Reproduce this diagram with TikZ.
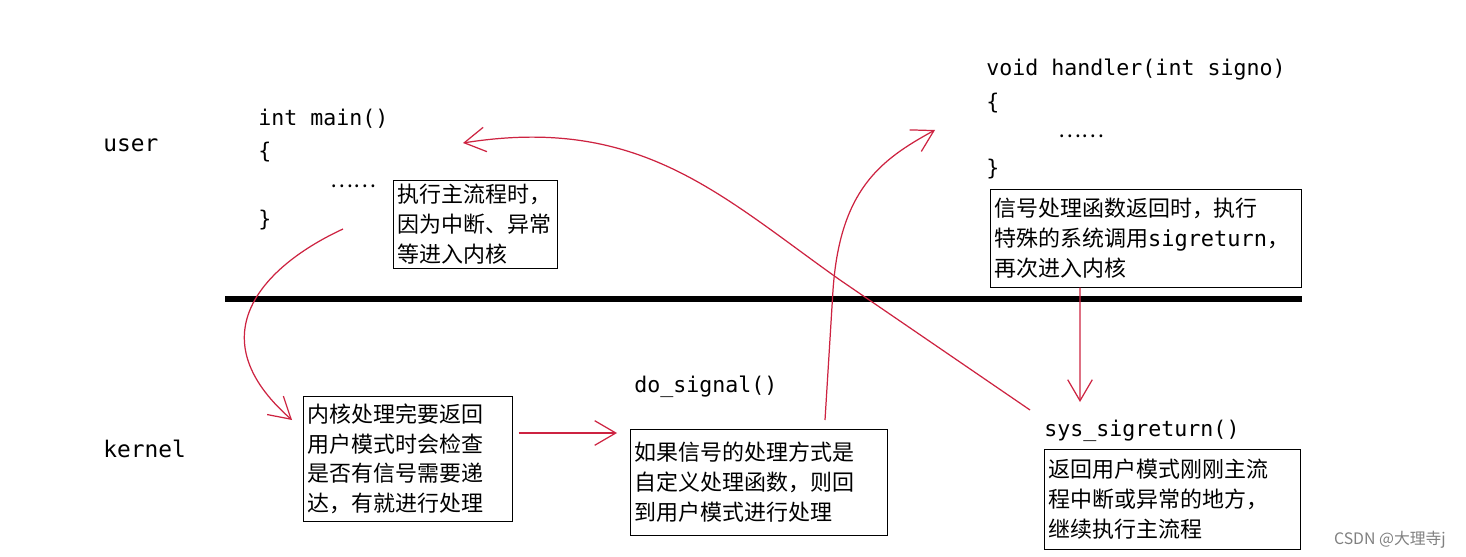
\documentclass[tikz,border=0pt]{standalone}
\usepackage{fontspec}
\setmonofont{DejaVu Sans Mono}
\newfontfamily\cjk{Noto Sans CJK SC}
\usetikzlibrary{positioning,arrows.meta}
\definecolor{sigred}{RGB}{205,35,65}

\begin{document}
\begin{tikzpicture}[x=0.02cm,y=-0.02cm,
        code/.style={anchor=west,inner sep=0pt,font=\ttfamily\fontsize{12.3}{14}\selectfont},
        note/.style={draw,anchor=north west,inner sep=0.08cm,align=left,font=\cjk\fontsize{12.5}{17}\selectfont},
        flow/.style={draw=sigred,line width=0.7pt,-{Straight Barb[length=12pt,width=14pt]}}]
        \useasboundingbox (0,0) rectangle (1466,557);
        % mode labels
        \node[code,font=\ttfamily\fontsize{13}{15}\selectfont] (user) at (103,145) {user};
        \node[code,font=\ttfamily\fontsize{13}{15}\selectfont] (kernel) at (103,449) {kernel};
        \draw[line width=3.4pt] (225,299) -- (1302,299);
        % user space
        \node[code] (mainsig) at (258,119) {int main()};
        \node[code] (mainopen) at (258,152) {\{};
        \node[code] (maindots) at (330,186) {\cjk ……};
        \node[code] (mainclose) at (258,220) {\}};
        \node[note,text width=3.12cm,minimum height=1.76cm] (enter) at (393,180) {执行主流程时，\\因为中断、异常\\等进入内核};
        \node[code] (handsig) at (986,70) {void handler(int signo)};
        \node[code] (handopen) at (986,103) {\{};
        \node[code] (handdots) at (1058,136) {\cjk ……};
        \node[code] (handclose) at (986,169) {\}};
        \node[note,text width=6.06cm,minimum height=1.96cm] (handret) at (990,189) {信号处理函数返回时，执行\\特殊的系统调用{\ttfamily sigreturn}，\\再次进入内核};
        % kernel space
        \node[note,text width=4.02cm,minimum height=2.5cm] (check) at (303,396) {内核处理完要返回\\用户模式时会检查\\是否有信号需要递\\达，有就进行处理};
        \node[note,text width=4.98cm,minimum height=2.12cm] (custom) at (630,429) {如果信号的处理方式是\\自定义处理函数，则回\\到用户模式进行处理};
        \node[code,above=0.62cm of custom.north west,anchor=south west,xshift=0.08cm] (dosig) {do\_signal()};
        \node[code] (sysret) at (1044,431) {sys\_sigreturn()};
        \node[note,text width=4.96cm,minimum height=2cm,below=0.14cm of sysret.south west,anchor=north west] (resume) {返回用户模式刚刚主流\\程中断或异常的地方，\\继续执行主流程};
        \node[anchor=east,text=gray,font=\cjk\fontsize{9}{11}\selectfont] (mark) at (1452,540) {CSDN @大理寺j};
        % flow arrows
        \coordinate (trap) at (343,229);
        \coordinate (tohand) at (935,130);
        \coordinate (tosys) at (1080,402);
        \coordinate (fromsys) at (1030,410);
        \coordinate (tomain) at (463,143);
        \draw[flow] (trap) .. controls (265,265) and (195,335) .. ([shift={(-11,24)}]check.north west);
        \draw[flow] ([shift={(6,37)}]check.north east) -- ([shift={(-13,4)}]custom.north west);
        \draw[flow] ([shift={(195,-9)}]custom.north west) -- (833,290) .. controls (840,190) and (880,160) .. (tohand);
        \draw[flow] ([xshift=1.8cm]handret.south west) -- (tosys);
        \draw[flow] (fromsys) -- (840,280) .. controls (720,195) and (640,115) .. (tomain);
    \end{tikzpicture}
\end{document}
